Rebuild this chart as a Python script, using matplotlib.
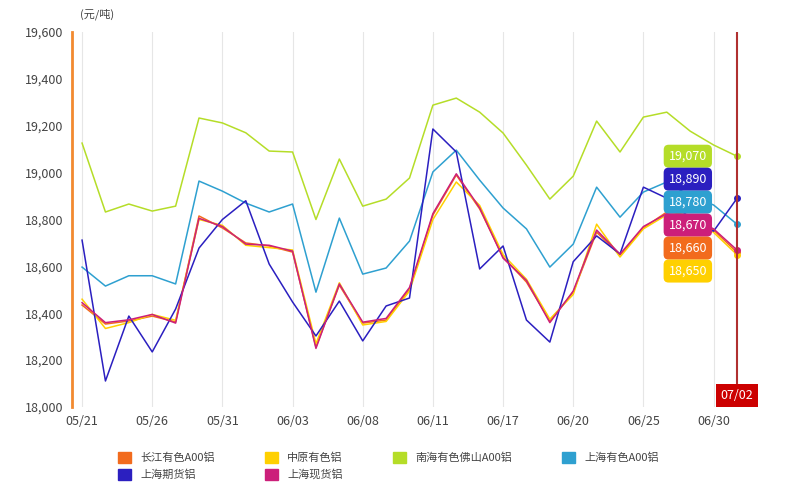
import matplotlib
matplotlib.use("Agg")
import matplotlib.pyplot as plt
from matplotlib.patches import Patch

plt.rcParams['font.family'] = ['Noto Sans CJK SC', 'DejaVu Sans']

tick_idx = [0, 3, 6, 9, 12, 15, 18, 21, 24, 27]
tick_labels = ["05/21", "05/26", "05/31", "06/03", "06/08", "06/11", "06/17", "06/20", "06/25", "06/30"]
last_label = "07/02"

names = ["长江有色A00铝", "中原有色铝", "南海有色佛山A00铝", "上海有色A00铝", "上海期货铝", "上海现货铝"]
colors = ["#f26b1d", "#ffd000", "#b5dd28", "#2ea0d0", "#2b1fc0", "#cc1f7a"]

changjiang = [18435, 18354, 18367, 18388, 18363, 18815, 18764, 18700, 18687, 18661, 18256, 18520, 18358, 18371, 18503,
              18819, 18990, 18845, 18640, 18533, 18367, 18490, 18746, 18648, 18764, 18832, 18819, 18755, 18660]
zhongyuan = [18460, 18335, 18360, 18395, 18370, 18800, 18775, 18690, 18680, 18670, 18270, 18530, 18350, 18365, 18495,
             18800, 18960, 18860, 18650, 18545, 18375, 18480, 18780, 18640, 18760, 18820, 18810, 18745, 18650]
nanhai = [19126, 18832, 18866, 18836, 18857, 19233, 19212, 19170, 19092, 19088, 18800, 19058, 18857, 18887, 18977,
          19288, 19318, 19258, 19169, 19032, 18887, 18985, 19220, 19088, 19237, 19258, 19177, 19118, 19070]
shanghai_a00 = [18597, 18516, 18560, 18560, 18525, 18964, 18921, 18870, 18832, 18866, 18490, 18806, 18567, 18593, 18708,
                19003, 19096, 18968, 18849, 18760, 18597, 18695, 18938, 18810, 18917, 18960, 18900, 18862, 18780]
futures = [18712, 18111, 18388, 18235, 18418, 18678, 18800, 18880, 18610, 18448, 18303, 18452, 18282, 18431, 18465,
           19186, 19088, 18589, 18687, 18371, 18277, 18620, 18730, 18653, 18938, 18891, 18806, 18750, 18890]
spot = [18445, 18360, 18372, 18395, 18358, 18805, 18770, 18695, 18690, 18665, 18250, 18525, 18362, 18378, 18510,
        18825, 18995, 18850, 18635, 18540, 18360, 18495, 18755, 18652, 18770, 18825, 18812, 18760, 18670]
series = [changjiang, zhongyuan, nanhai, shanghai_a00, futures, spot]

fig = plt.figure(figsize=(8, 5), dpi=100)
ax = fig.add_axes([0.09, 0.186, 0.835, 0.75])
x = list(range(len(nanhai)))
for s, c in zip(series, colors):
    ax.plot(x, s, color=c, lw=1.1)
    ax.plot([x[-1]], [s[-1]], 'o', color=c, ms=4)

ax.set_xlim(-0.43, 28.13)
ax.set_ylim(18000, 19600)
ax.set_yticks(range(18000, 19601, 200))
ax.set_yticklabels([f"{v:,}" for v in range(18000, 19601, 200)], fontsize=9, color="#444")
ax.set_xticks(tick_idx)
ax.set_xticklabels(tick_labels, fontsize=9, color="#444")
ax.tick_params(length=0, pad=6)
ax.grid(axis='x', color="#e6e6e6", lw=0.8)
for sp in ["top", "right", "bottom"]:
    ax.spines[sp].set_visible(False)
ax.spines["left"].set_color("#f28a30")
ax.spines["left"].set_linewidth(2)
ax.axvline(28, color="#b03030", lw=1.5)
ax.text(28, 18050, last_label, ha='center', va='center', fontsize=9, color='white',
        bbox=dict(boxstyle='square,pad=0.4', fc='#cc0000', ec='none'))

order = [2, 4, 3, 5, 0, 1]
label_y = [19070, 18972, 18874, 18776, 18678, 18580]
for i, ly in zip(order, label_y):
    ax.text(25.9, ly, f"{series[i][-1]:,}", ha='center', va='center', fontsize=9, color='white',
            bbox=dict(boxstyle='round,pad=0.4', fc=colors[i], ec='none'))

fig.text(0.10, 0.965, "(元/吨)", fontsize=8, color="#444")

handles = [Patch(color=c) for c in colors]
seq = [0, 4, 1, 5, 2, 3]
fig.legend([handles[i] for i in seq], [names[i] for i in seq], loc='lower left',
           bbox_to_anchor=(0.135, 0.02), ncol=4, frameon=False,
           fontsize=8, handlelength=1.2, handleheight=1.2, columnspacing=4.5, labelcolor="#444")

fig.savefig("out.png", dpi=100)
